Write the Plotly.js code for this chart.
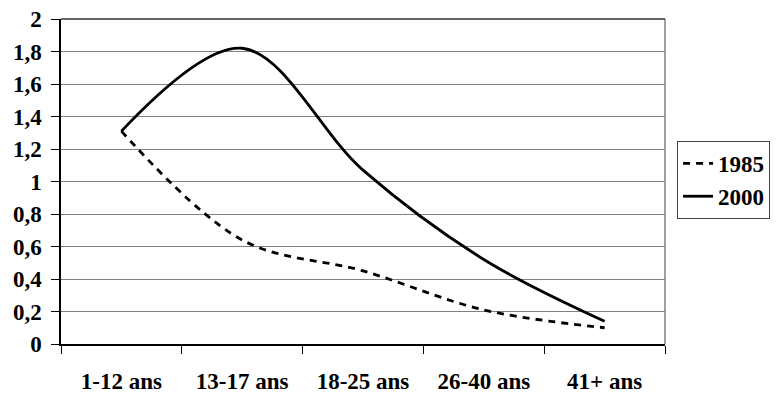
<!DOCTYPE html>
<html>
<head>
<meta charset="utf-8">
<script src="https://cdn.plot.ly/plotly-3.0.1.min.js"></script>
<style>
  html, body { margin: 0; padding: 0; background: #fff; }
  #chart { width: 782px; height: 396px; }
</style>
</head>
<body>
<div id="chart"></div>
<script>
// Age groups on the horizontal axis
const ageGroups = ['1-12 ans', '13-17 ans', '18-25 ans', '26-40 ans', '41+ ans'];
// Values per age group for each year
const values1985 = [1.31, 0.64, 0.45, 0.21, 0.10];
const values2000 = [1.31, 1.82, 1.07, 0.52, 0.14];
const seriesNames = ['1985', '2000'];

const labelFont = { family: 'Liberation Serif', size: 23, weight: 'bold', color: '#000' };

const traces = [
  {
    x: ageGroups, y: values1985, name: seriesNames[0], type: 'scatter', mode: 'lines',
    line: { color: '#000', width: 2.8, dash: '7px,6px', shape: 'spline', smoothing: 1 }
  },
  {
    x: ageGroups, y: values2000, name: seriesNames[1], type: 'scatter', mode: 'lines',
    line: { color: '#000', width: 2.8, shape: 'spline', smoothing: 1 }
  }
];

const layout = {
  width: 782, height: 396,
  margin: { l: 61, r: 117, t: 19, b: 52 },
  paper_bgcolor: '#fff', plot_bgcolor: '#fff',
  font: labelFont,
  separators: ', ',
  showlegend: true,
  legend: {
    x: 1.02, xanchor: 'left', y: 0.505, yanchor: 'middle',
    bordercolor: '#444', borderwidth: 1, bgcolor: '#fff',
    font: labelFont,
    tracegroupgap: 0, itemwidth: 30
  },
  xaxis: {
    type: 'category', range: [-0.5, 4.5],
    tickson: 'boundaries', ticks: 'outside', ticklen: 8, tickcolor: '#000', tickwidth: 1,
    showline: true, linecolor: '#000', linewidth: 1.5,
    showgrid: false, zeroline: false,
    tickfont: labelFont, ticklabelstandoff: 16
  },
  yaxis: {
    range: [0, 2], dtick: 0.2, tick0: 0,
    ticks: 'outside', ticklen: 8, tickcolor: '#000', tickwidth: 1,
    showline: true, linecolor: '#000', linewidth: 1.5,
    showgrid: true, gridcolor: '#808080', gridwidth: 1,
    zeroline: false,
    tickfont: labelFont, ticklabelstandoff: 5
  },
  shapes: [
    { type: 'line', xref: 'paper', yref: 'paper', x0: 1, x1: 1, y0: 0, y1: 1,
      line: { color: '#808080', width: 1.5 } },
    { type: 'line', xref: 'paper', yref: 'paper', x0: 0, x1: 1, y0: 1, y1: 1,
      line: { color: '#333', width: 1.5 } }
  ]
};

Plotly.newPlot('chart', traces, layout, { displayModeBar: false });
</script>
</body>
</html>
